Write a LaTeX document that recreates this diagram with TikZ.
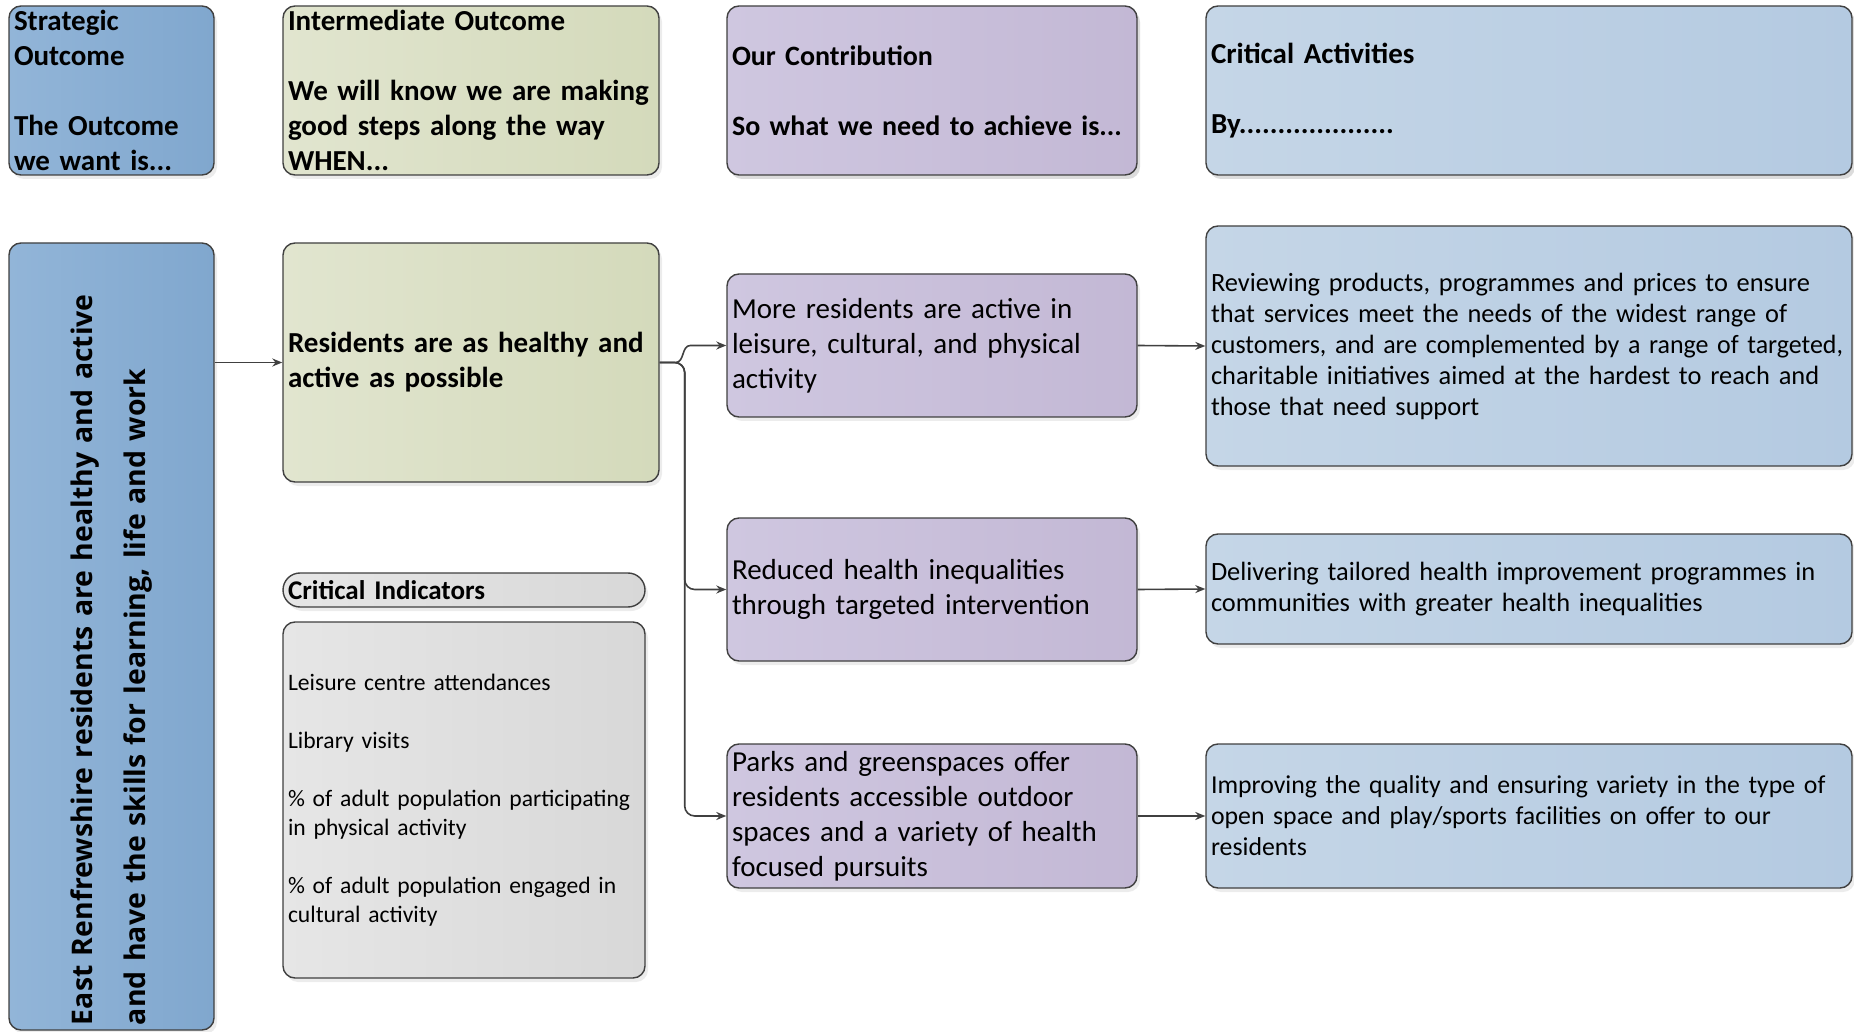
\documentclass[tikz,border=0pt]{standalone}
\usepackage{fontspec}
\setmainfont{Carlito}
\newfontfamily\vertfont{Open Sans}
\usetikzlibrary{arrows.meta,shadows}

\definecolor{lineclr}{HTML}{404040}
\definecolor{soL}{HTML}{92B5D8}
\definecolor{soR}{HTML}{80A7CE}
\definecolor{ioL}{HTML}{E1E5CF}
\definecolor{ioR}{HTML}{D4DABB}
\definecolor{ocL}{HTML}{CFC7E0}
\definecolor{ocR}{HTML}{C3B8D5}
\definecolor{caL}{HTML}{C5D6E7}
\definecolor{caR}{HTML}{B4CAE1}
\definecolor{ciL}{HTML}{E6E6E6}
\definecolor{ciR}{HTML}{D8D8D8}

\tikzset{
  box/.style={draw=lineclr, line width=0.7pt, rounded corners=6pt,
    inner xsep=2.5pt, inner ysep=1pt, align=left,
    drop shadow={shadow xshift=1.5pt, shadow yshift=-2pt, opacity=0.15}},
  hdr/.style={box, font=\fontsize{14.5}{17.5}\selectfont\bfseries},
  sobox/.style={left color=soL, right color=soR},
  iobox/.style={left color=ioL, right color=ioR},
  ocbox/.style={box, left color=ocL, right color=ocR, text width=200pt,
    minimum height=71.5pt, font=\fontsize{14.5}{17.5}\selectfont},
  cabox/.style={box, left color=caL, right color=caR, text width=318pt,
    font=\fontsize{13.2}{15.5}\selectfont},
  cibox/.style={left color=ciL, right color=ciR, text width=176pt},
  conn/.style={draw=lineclr, line width=0.8pt, -{Stealth[length=5pt,width=4pt]}}
}

\begin{document}
\begin{tikzpicture}[x=0.5pt,y=-0.5pt]
\useasboundingbox (0,0) rectangle (1854,1032);

% column headers
\node[hdr, sobox, text width=97.5pt, minimum height=84.5pt] (soHead) at (111.5,90.5)
  {Strategic\\Outcome\\[17.5pt]The Outcome\\we want is...};
\node[hdr, iobox, text width=183pt, minimum height=84.5pt] (ioHead) at (471,90.5)
  {Intermediate Outcome\\[17.5pt]We will know we are making\\good steps along the way\\WHEN...};
\node[ocbox, hdr, minimum height=84.5pt, font=\fontsize{14}{17.5}\selectfont\bfseries] (ocHead) at (932,90.5)
  {Our Contribution\\[17.5pt]So what we need to achieve is...};
\node[cabox, hdr, minimum height=84.5pt] (caHead) at (1529,90.5)
  {Critical Activities\\[17.5pt]By....................};

% strategic outcome
\node[box, sobox, rotate=90, text width=388.5pt, minimum height=102.5pt,
  font=\vertfont\fontsize{14.2}{26.5}\selectfont\bfseries] (so) at (111.5,636.5)
  {East Renfrewshire residents are healthy and active\\and have the skills for learning, life and work};

% intermediate outcome
\node[hdr, iobox, text width=183pt, minimum height=119.5pt] (io) at (471,362.5)
  {Residents are as healthy and\\active as possible};

% critical indicators
\node[box, cibox, rounded corners=8.5pt, minimum height=17pt,
  font=\fontsize{13.5}{16}\selectfont\bfseries] (ciHead) at (464,590) {Critical Indicators};
\node[box, cibox, minimum height=178pt, font=\fontsize{11.8}{14.5}\selectfont] (ci) at (464,800)
  {Leisure centre attendances\\[14.5pt]Library visits\\[14.5pt]%
   \% of adult population participating\\in physical activity\\[14.5pt]%
   \% of adult population engaged in\\cultural activity};

% our contribution
\node[ocbox] (oc1) at (932,345.5) {More residents are active in\\leisure, cultural, and physical\\activity};
\node[ocbox] (oc2) at (932,589.5) {Reduced health inequalities\\through targeted intervention};
\node[ocbox, minimum height=72pt] (oc3) at (932,816)
  {Parks and greenspaces offer\\residents accessible outdoor\\spaces and a variety of health\\focused pursuits};

% critical activities
\node[cabox, minimum height=120pt] (ca1) at (1529,346)
  {Reviewing products, programmes and prices to ensure\\that services meet the needs of the widest range of\\\resizebox{316pt}{\height}{customers, and are complemented by a range of targeted,}\\charitable initiatives aimed at the hardest to reach and\\those that need support};
\node[cabox, minimum height=55pt] (ca2) at (1529,589)
  {Delivering tailored health improvement programmes in\\communities with greater health inequalities};
\node[cabox, minimum height=72pt, font=\fontsize{12.9}{15.5}\selectfont] (ca3) at (1529,816)
  {Improving the quality and ensuring variety in the type of\\open space and play/sports facilities on offer to our\\residents};

% connectors
\draw[conn] (io.west -| so.south) -- (io.west);
\path (io.east) ++(25,0) coordinate (split);
\path (io.east) ++(16,0) coordinate (upStart);
\path (oc1.west) ++(-36,0) coordinate (upEnd);
\draw[conn] (upStart) .. controls +(9,0) and +(-9,0) .. (upEnd) -- (oc1.west);
\draw[conn, rounded corners=5pt] (io.east) -- (split) |- (oc2.west);
\draw[conn, rounded corners=5pt] (io.east) -- (split) |- (oc3.west);
\draw[conn] (oc1.east) -- (ca1.west);
\draw[conn] (oc2.east) -- (ca2.west);
\draw[conn] (oc3.east) -- (ca3.west);
\end{tikzpicture}
\end{document}
